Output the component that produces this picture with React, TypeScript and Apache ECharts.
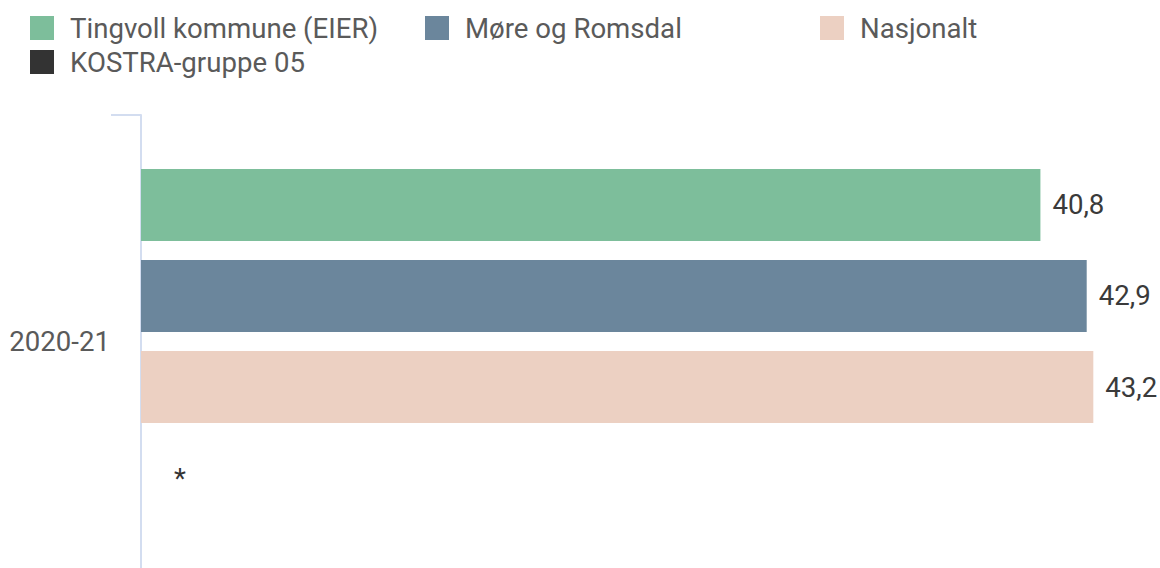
import React, { useEffect, useRef } from "react";
import * as echarts from "echarts";

const categories = ["2020-21"];
const seriesNames = ["Tingvoll kommune (EIER)", "Møre og Romsdal", "Nasjonalt", "KOSTRA-gruppe 05"];
const tingvoll = [40.8];
const moreRomsdal = [42.9];
const nasjonalt = [43.2];
const kostra: (number | null)[] = [null];
const seriesColors = ["#7dbe9b", "#6b869c", "#ecd0c2", "#333333"];

const fmt = (v: number) => v.toFixed(1).replace(".", ",");

export default function App() {
  const ref = useRef<HTMLDivElement>(null);
  useEffect(() => {
    if (!ref.current) return;
    const chart = echarts.init(ref.current, undefined, { renderer: "svg" });
    const allValues = [tingvoll, moreRomsdal, nasjonalt, kostra];
    const legendPos = [
      { left: 30, top: 14 },
      { left: 425, top: 14 },
      { left: 820, top: 14 },
      { left: 30, top: 48 },
    ];
    const font = "Roboto";
    const fs = 27.6;
    const gridLeft = 141;
    const gridTop = 115;
    const axisColor = "#d3ddf0";
    chart.setOption({
      animation: false,
      legend: seriesNames.map((n, i) => ({
        data: [n],
        left: legendPos[i].left,
        top: legendPos[i].top,
        padding: 0,
        icon: "rect",
        itemWidth: 24,
        itemHeight: 24,
        selectedMode: false,
        textStyle: {
          fontFamily: font,
          fontSize: fs,
          color: "#5a5a5a",
          lineHeight: 24,
          padding: [0, 0, 0, 11],
        },
      })),
      graphic: [
        {
          type: "line",
          shape: { x1: gridLeft - 30, y1: gridTop, x2: gridLeft, y2: gridTop },
          style: { stroke: axisColor, lineWidth: 2 },
          silent: true,
        },
      ],
      grid: { left: gridLeft, right: 27, top: gridTop, bottom: -2, containLabel: false },
      xAxis: { type: "value", min: 0, max: 45, show: false, splitLine: { show: false } },
      yAxis: {
        type: "category",
        data: categories,
        inverse: true,
        axisLine: { show: true, lineStyle: { color: axisColor, width: 2 } },
        axisTick: { show: false },
        axisLabel: { margin: 31, fontFamily: font, fontSize: fs, color: "#5a5a5a" },
      },
      series: seriesNames.map((n, i) => ({
        name: n,
        type: "bar",
        barWidth: 72,
        barGap: "26.4%",
        itemStyle: { color: seriesColors[i] },
        label: {
          show: true,
          position: "right",
          distance: 12,
          fontFamily: font,
          fontSize: fs,
          color: "#3a3a3a",
          formatter: (p: any) => fmt(p.value),
        },
        data: allValues[i].map((v) =>
          v === null
            ? { value: 0, label: { formatter: "*", distance: 33, color: "#333333" } }
            : v
        ),
      })),
    });
    return () => chart.dispose();
  }, []);
  return (
    <div
      ref={ref}
      style={{ position: "fixed", left: 0, top: 0, width: 1160, height: 568, background: "#fff" }}
    />
  );
}
